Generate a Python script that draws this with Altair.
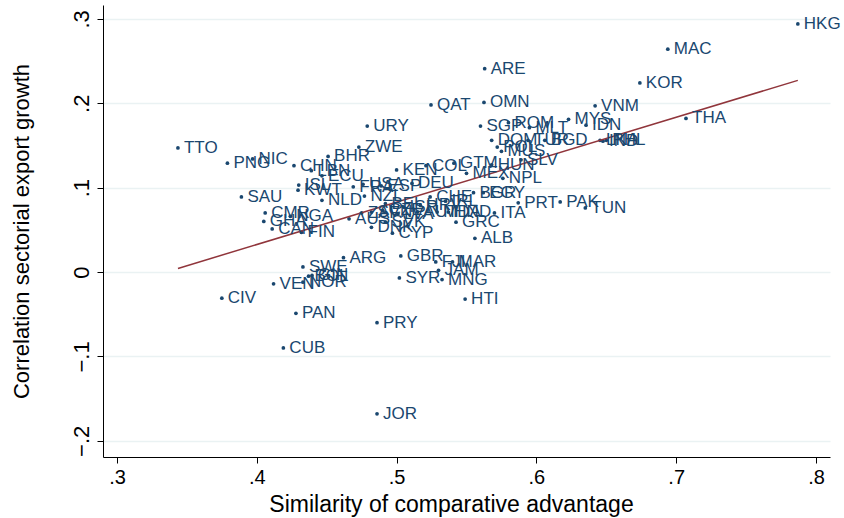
import altair as alt
import pandas as pd

countries = ["HKG","MAC","KOR","ARE","OMN","QAT","VNM","MYS","IDN","THA",
             "URY","SGP","ROM","MLT","DOM","TUR","BGD","LKA","IND","PHL",
             "POL","MUS","HUN","SLV","TTO","ZWE","BHR","NIC","PNG","CHN",
             "LBN","ECU","KEN","COL","GTM","MEX","NPL","DEU","FRA","USA",
             "ESP","ISL","KWT","NLD","NZL","SAU","BGR","EGY","CHE","BEL",
             "ISR","HRV","IRL","SVN","ZAF","CZE","LVA","AUT","MDA","HND",
             "ITA","PRT","PAK","TUN","GRC","ALB","CYP","DNK","SVK","AUS",
             "CMR","GHA","NGA","CAN","FIN","ARG","GBR","FJI","MAR","JAM",
             "MNG","SYR","HTI","PRY","PAN","CUB","CIV","JOR","SWE","BOL",
             "GIN","VEN","NOR"]

similarity = [0.787,0.694,0.674,0.563,0.5625,0.5246,0.642,0.623,0.6355,0.707,
              0.479,0.560,0.580,0.595,0.568,0.594,0.606,0.6455,0.6476,0.650,
              0.572,0.575,0.568,0.589,0.3436,0.473,0.451,0.397,0.379,0.4266,
              0.439,0.4466,0.500,0.521,0.541,0.550,0.576,0.511,0.469,0.476,
              0.489,0.430,0.4295,0.4466,0.477,0.389,0.555,0.562,0.524,0.492,
              0.505,0.517,0.535,0.482,0.475,0.490,0.501,0.515,0.529,0.537,
              0.570,0.587,0.617,0.635,0.5425,0.556,0.497,0.482,0.492,0.466,
              0.406,0.405,0.424,0.411,0.432,0.462,0.503,0.528,0.540,0.530,
              0.5325,0.502,0.549,0.486,0.428,0.419,0.375,0.486,0.433,0.437,
              0.4395,0.412,0.433]

correlation = [0.294,0.264,0.224,0.241,0.201,0.198,0.197,0.181,0.174,0.182,
               0.173,0.173,0.177,0.171,0.156,0.156,0.156,0.156,0.155,0.156,
               0.148,0.143,0.127,0.133,0.147,0.148,0.137,0.134,0.129,0.126,
               0.120,0.114,0.121,0.126,0.129,0.117,0.111,0.105,0.101,0.104,
               0.102,0.103,0.097,0.085,0.090,0.089,0.094,0.094,0.089,0.081,
               0.077,0.079,0.084,0.071,0.070,0.073,0.069,0.071,0.071,0.071,
               0.070,0.082,0.083,0.076,0.059,0.040,0.046,0.053,0.059,0.063,
               0.070,0.060,0.066,0.051,0.047,0.017,0.019,0.012,0.012,0.002,
               -0.009,-0.007,-0.032,-0.060,-0.049,-0.090,-0.031,-0.168,0.006,-0.005,
               -0.004,-0.014,-0.012]

df = pd.DataFrame({"country": countries, "sim": similarity, "corr": correlation})

NAVY = "#1a476f"
MAROON = "#90353b"
FONT = "Liberation Sans"

xscale = alt.Scale(domain=[0.29, 0.81], nice=False, zero=False)
yscale = alt.Scale(domain=[-0.2192, 0.3164], nice=False, zero=False)

lab_expr = "datum.value == 0 ? '0' : replace(format(datum.value, '.1f'), '0.', '.')"

x_enc = alt.X("sim:Q", scale=xscale,
              axis=alt.Axis(title="Similarity of comparative advantage",
                            values=[0.3, 0.4, 0.5, 0.6, 0.7, 0.8],
                            labelExpr=lab_expr, grid=False,
                            labelFontSize=20, titleFontSize=23,
                            titleX=348, titleAlign="center"))
y_enc = alt.Y("corr:Q", scale=yscale,
              axis=alt.Axis(title="Correlation sectorial export growth",
                            values=[-0.2, -0.1, 0, 0.1, 0.2, 0.3],
                            labelExpr=lab_expr, grid=True, labelAngle=270,
                            labelAlign="center", labelBaseline="bottom",
                            labelFontSize=22, titleFontSize=22))

base = alt.Chart(df)

points = base.mark_circle(size=14, color=NAVY, opacity=1).encode(x=x_enc, y=y_enc)
labels = base.mark_text(align="left", baseline="middle", dx=6, fontSize=17,
                        font=FONT, color=NAVY).encode(x="sim:Q", y="corr:Q",
                                                      text="country:N")
fit = base.transform_regression("sim", "corr").mark_line(
    color=MAROON, strokeWidth=1.5).encode(x="sim:Q", y="corr:Q")

chart = alt.layer(points, fit, labels).properties(
    width=727, height=452,
    autosize=alt.AutoSizeParams(type="none"),
    padding={"left": 103, "top": 5, "right": 14, "bottom": 61},
).configure_view(stroke=None).configure_axis(
    domainColor="black", tickColor="black", tickSize=6,
    labelColor="black", titleColor="black",
    labelFont=FONT, titleFont=FONT,
    titleFontWeight="normal", gridColor="#eaf2f3", gridWidth=1.5,
    labelPadding=4,
).configure_axisX(titlePadding=6).configure_axisY(titlePadding=37)

chart.save("out.html", embed_options={"renderer": "svg", "actions": False})
